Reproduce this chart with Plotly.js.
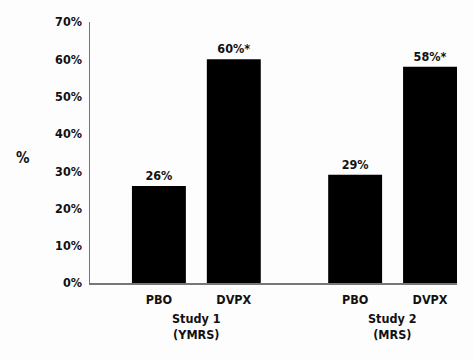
<!DOCTYPE html>
<html>
<head>
<meta charset="utf-8">
<script src="https://cdn.plot.ly/plotly-3.0.1.min.js"></script>
<style>html,body{margin:0;padding:0;background:#fdfdfd;}#chart{width:474px;height:359px;}</style>
</head>
<body>
<div id="chart"></div>
<script>
const studies = ["Study 1<br>(YMRS)", "Study 2<br>(MRS)"];
const arms = ["PBO", "DVPX"];
const values = [26, 60, 29, 58];
const valueLabels = ["26%", "60%*", "29%", "58%*"];
const yTicks = [0, 10, 20, 30, 40, 50, 60, 70];
const yTickLabels = ["0%", "10%", "20%", "30%", "40%", "50%", "60%", "70%"];

const groupGap = 2.62;
const xs = [], tickText = [];
studies.forEach((s, g) => arms.forEach((a, j) => { xs.push(g * groupGap + j); tickText.push(a); }));
const groupCenters = studies.map((s, g) => g * groupGap + 0.5);

const font = "'DejaVu Sans Condensed', 'Liberation Sans Narrow', Arial, sans-serif";
const fs = 12.5;

const trace = {
  type: "bar",
  x: xs,
  y: values,
  width: 0.72,
  marker: {color: "#000000"},
  text: valueLabels,
  textposition: "outside",
  cliponaxis: false,
  textfont: {family: font, size: fs, color: "#111", weight: "bold"},
  hoverinfo: "skip"
};

const annotations = studies.map((s, g) => ({
  text: s, x: groupCenters[g], xref: "x", y: -0.1, yref: "paper",
  yanchor: "top", xanchor: "center", showarrow: false,
  font: {family: font, size: fs, color: "#111", weight: "bold"}
}));
annotations.push({
  text: "%", x: -0.182, xref: "paper", xanchor: "center", y: 33.5, yref: "y", yanchor: "middle",
  showarrow: false, font: {family: font, size: 15, color: "#111", weight: "bold"}
});

const layout = {
  width: 474, height: 359,
  margin: {l: 90, r: 17, t: 22, b: 76},
  paper_bgcolor: "#fdfdfd", plot_bgcolor: "#fdfdfd",
  showlegend: false,
  xaxis: {
    range: [-0.92, groupGap + 1.36],
    tickvals: xs, ticktext: tickText,
    showgrid: false, zeroline: false,
    showline: true, linecolor: "#777", linewidth: 1.5,
    ticks: "", ticklabelstandoff: 4,
    tickfont: {family: font, size: fs, color: "#111", weight: "bold"},
    fixedrange: true
  },
  yaxis: {
    range: [0, 70],
    tickvals: yTicks, ticktext: yTickLabels,
    showgrid: false, zeroline: false,
    showline: true, linecolor: "#777", linewidth: 1.5,
    ticks: "", ticklabelstandoff: 4,
    tickfont: {family: font, size: fs, color: "#111", weight: "bold"},
    fixedrange: true
  },
  annotations: annotations
};

Plotly.newPlot("chart", [trace], layout, {displayModeBar: false, staticPlot: true});
</script>
</body>
</html>
